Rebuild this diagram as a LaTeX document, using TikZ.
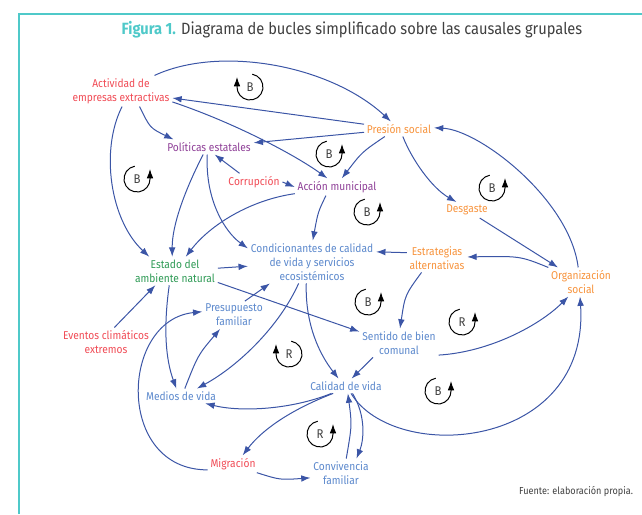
\documentclass[tikz,border=0pt]{standalone}
\usepackage{fontspec}
\setmainfont{Fira Sans}[FakeStretch=0.9]
\usetikzlibrary{arrows.meta}

\definecolor{linkblue}{HTML}{3B55A6}
\definecolor{varblue}{HTML}{5B88CC}
\definecolor{varred}{HTML}{F04B55}
\definecolor{varorange}{HTML}{F7933C}
\definecolor{varpurple}{HTML}{8E3F97}
\definecolor{vargreen}{HTML}{2E9A55}
\definecolor{frameteal}{HTML}{4FC9C9}
\definecolor{titlegray}{HTML}{3F3F3F}

\begin{document}
\begin{tikzpicture}
		[x=0.75pt,y=-0.75pt,every node/.style={align=center,inner sep=2pt,font=\fontsize{8.5}{10.5}\selectfont},
		edge/.style={draw=linkblue,line width=0.75pt,-{Latex[length=7pt,width=5pt]}},
		loopmark/.style={line width=0.75pt,-{Latex[length=7pt,width=5pt]}}]
		\useasboundingbox (0,0) rectangle (642,514);
		\draw[frameteal,line width=1.5pt] (19,514) -- (19,14) -- (642,14);
		\node (title) at (352,30) {\fontsize{12.2}{14}\selectfont\textcolor{frameteal}{\bfseries Figura 1.} \textcolor{titlegray}{Diagrama de bucles simplificado sobre las causales grupales}};
		\node[anchor=east,text=titlegray,font=\fontsize{7.6}{9}\selectfont] (fuente) at (636,492) {Fuente: elaboración propia.};
		
		% variables
		\node[text=varred] (act) at (121,91) {Actividad de\\empresas extractivas};
		\node[text=varorange] (pres) at (399,129) {Presión social};
		\node[text=varpurple] (pol) at (209,147) {Políticas estatales};
		\node[text=varred] (corr) at (254,182) {Corrupción};
		\node[text=varpurple] (acc) at (337,187) {Acción municipal};
		\node[text=varorange] (desg) at (467,210) {Desgaste};
		\node[text=vargreen] (est) at (175,271) {Estado del\\ambiente natural};
		\node[text=varblue] (cond) at (312,262) {Condicionantes de calidad\\de vida y servicios\\ecosistémicos};
		\node[text=varorange] (estr) at (437,258) {Estrategias\\alternativas};
		\node[text=varorange] (org) at (581,282) {Organización\\social};
		\node[text=varred] (ev) at (106,342) {Eventos climáticos\\extremos};
		\node[text=varblue] (presu) at (234,315) {Presupuesto\\familiar};
		\node[text=varblue] (sent) at (399,343) {Sentido de bien\\comunal};
		\node[text=varblue] (med) at (181,396) {Medios de vida};
		\node[text=varblue] (cal) at (346,386) {Calidad de vida};
		\node[text=varred] (mig) at (233,464) {Migración};
		\node[text=varblue] (conv) at (341,473) {Convivencia\\familiar};
		
		% loops
		\foreach \cx/\cy/\lab in {329/154/B,137/179/B,367/212/B,492/188/B,368/302/B,462/322/R,438/391/B,320/434/R}{
			\node[text=titlegray,font=\fontsize{9.5}{11}\selectfont] (loop\cx) at (\cx,\cy) {\lab};
			\draw[loopmark] (\cx,\cy) ++(-100:13) arc[start angle=-100,end angle=-360,radius=13] -- ++(0,-10);
		}
		\foreach \cx/\cy/\lab in {250/87/B,289/354/R}{
			\node[text=titlegray,font=\fontsize{9.5}{11}\selectfont] (loop\cx) at (\cx,\cy) {\lab};
			\draw[loopmark] (\cx,\cy) ++(-80:13) arc[start angle=-80,end angle=180,radius=13] -- ++(0,-10);
		}
		
		% links
		\foreach \from/\to in {pres/act,pres/pol,corr.east/acc.west,corr.149/pol.-53,desg/org,est/cond,est.-15/sent.164,ev.60/est.-144,presu.52/cond.-153,sent.-151/cal.53,estr.170/cond.9}
		\draw[edge] (\from) -- (\to);
		
		\draw[edge] (act) .. controls (220,45) and (330,65) .. (pres);
		\draw[edge] (act.-40) .. controls (150,128) .. (pol.168);
		\draw[edge] (act.-12) .. controls (235,123) and (295,155) .. (acc.138);
		\draw[edge] (act.-86) .. controls (100,150) and (110,220) .. (est.151);
		\draw[edge] (pres.208) .. controls (362,152) .. (acc.61);
		\draw[edge] (pres.-63) .. controls (412,160) and (432,188) .. (desg.143);
		\draw[edge] (org.101) .. controls (570,200) and (480,130) .. (pres.2);
		\draw[edge] (pol.-128) .. controls (185,190) and (172,225) .. (est.101);
		\draw[edge] (pol.-103) .. controls (205,200) and (225,232) .. (cond.168);
		\draw[edge] (acc.189) .. controls (250,200) and (210,225) .. (est.53);
		\draw[edge] (acc.-142) .. controls (318,212) .. (cond.88);
		\draw[edge] (org.156) .. controls (520,256) .. (estr.2);
		\draw[edge] (estr.-137) .. controls (405,295) .. (sent.86);
		\draw[edge] (sent.-17) .. controls (490,352) and (540,325) .. (org.-131);
		\draw[edge] (est.-112) .. controls (163,330) and (166,360) .. (med.122);
		\draw[edge] (med.63) .. controls (198,355) .. (presu.-135);
		\draw[edge] (mig.193) .. controls (115,470) and (120,320) .. (presu.174);
		\draw[edge] (cond.-122) .. controls (280,325) and (240,365) .. (med.25);
		\draw[edge] (cond.-105) .. controls (305,325) and (320,355) .. (cal.135);
		\draw[edge] (cal.-153) .. controls (290,410) and (240,412) .. (med.-17);
		\draw[edge] (cal.-150) .. controls (290,410) and (262,430) .. (mig.42);
		\draw[edge] (mig.-20) .. controls (280,480) .. (conv.-171);
		\draw[edge] (conv.70) .. controls (352,425) .. (cal.-76);
		\draw[edge] (cal.-49) .. controls (366,415) and (364,440) .. (conv.43);
		\draw[edge] (cal.-56) .. controls (395,465) and (590,450) .. (org.-94);
\end{tikzpicture}
\end{document}
